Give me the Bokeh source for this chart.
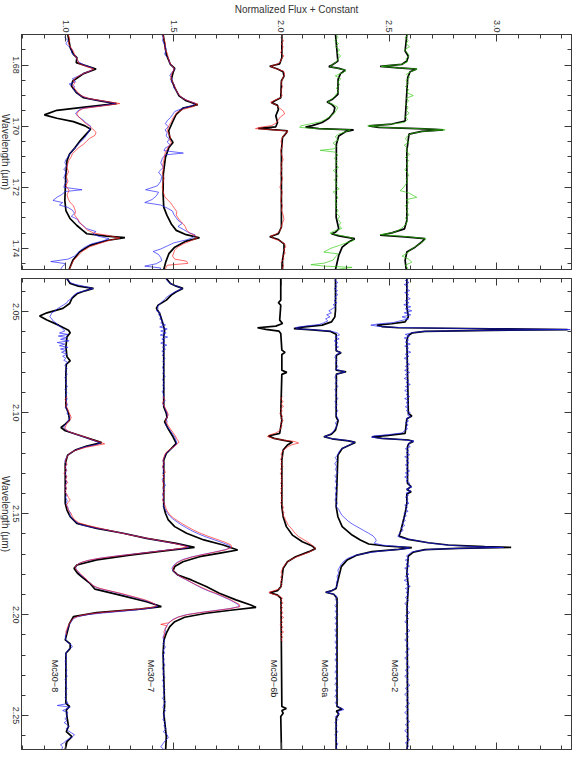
import math
from bokeh.plotting import figure
from bokeh.models import LinearAxis, Range1d, SingleIntervalTicker, PrintfTickFormatter
from bokeh.layouts import column, row
from bokeh.embed import file_html
from bokeh.resources import INLINE
from bokeh.core.properties import value

FONT = "Liberation Sans"
BLUE = "#2020ff"
RED = "#ff2020"
GREEN = "#33cc11"
BLACK = "#000000"

FLUX_RANGE = (0.794, 3.346)
H_RANGE = (1.6700, 1.7469)
K_RANGE = (2.0335, 2.2668)
FLUX_TITLE = "Normalized Flux + Constant"
WL_TITLE = "Wavelength (\u00b5m)"
WL_TICKS_H = [1.68, 1.70, 1.72, 1.74]
WL_TICKS_K = [2.05, 2.10, 2.15, 2.20, 2.25]

STAR_NAMES = ["Mc30\u22128", "Mc30\u22127", "Mc30\u22126b", "Mc30\u22126a", "Mc30\u22122"]
LABEL_FLUX = [0.951, 1.397, 1.966, 2.203, 2.526]
LABEL_WL = [2.2224, 2.2224, 2.2224, 2.2224, 2.2224]

# ---------------- H band (upper panel): (wavelength, flux) ----------------
H8_MODEL = [(1.6700,1.009),(1.6743,1.020),(1.6765,1.035),(1.6776,1.051),(1.6792,1.048),(1.6813,1.140),
    (1.6828,1.082),(1.6852,1.032),(1.6868,1.025),(1.6890,1.048),(1.6907,1.082),(1.6917,1.158),(1.6926,1.235),
    (1.6937,1.097),(1.6948,0.958),(1.6963,0.900),(1.6974,0.958),(1.6985,1.035),(1.6999,1.089),(1.7010,1.115),
    (1.7026,1.094),(1.7048,1.066),(1.7070,1.043),(1.7091,1.017),(1.7113,1.005),(1.7157,1.000),(1.7243,0.995),
    (1.7276,1.000),(1.7303,1.020),(1.7325,1.051),(1.7341,1.078),(1.7352,1.097),(1.7360,1.189),(1.7365,1.274),
    (1.7374,1.189),(1.7390,1.112),(1.7412,1.063),(1.7439,1.032),(1.7469,1.015)]
H8_RED = [(1.6700,1.010),(1.6715,1.018),(1.6730,1.012),(1.6745,1.025),(1.6755,1.035),(1.6765,1.040),
    (1.6775,1.048),(1.6785,1.055),(1.6795,1.060),(1.6805,1.095),(1.6813,1.130),(1.6820,1.110),(1.6830,1.075),
    (1.6840,1.050),(1.6850,1.035),(1.6860,1.040),(1.6870,1.030),(1.6880,1.045),(1.6890,1.055),(1.6900,1.070),
    (1.6910,1.110),(1.6918,1.180),(1.6926,1.250),(1.6934,1.170),(1.6942,1.080),(1.6950,1.060),(1.6960,1.050),
    (1.6970,1.060),(1.6980,1.075),(1.6990,1.090),(1.7000,1.110),(1.7010,1.125),(1.7020,1.140),(1.7030,1.135),
    (1.7040,1.110),(1.7050,1.095),(1.7060,1.080),(1.7070,1.060),(1.7080,1.045),(1.7090,1.030),(1.7100,1.025),
    (1.7110,1.015),(1.7120,1.010),(1.7135,1.005),(1.7150,1.012),(1.7165,1.002),(1.7180,1.010),(1.7195,1.000),
    (1.7210,1.015),(1.7225,1.005),(1.7240,1.012),(1.7250,1.020),(1.7260,1.035),(1.7270,1.040),(1.7280,1.045),
    (1.7290,1.040),(1.7300,1.050),(1.7310,1.060),(1.7320,1.070),(1.7330,1.085),(1.7340,1.100),(1.7350,1.130),
    (1.7358,1.200),(1.7366,1.250),(1.7374,1.200),(1.7385,1.150),(1.7395,1.110),(1.7410,1.075),(1.7425,1.055),
    (1.7440,1.035),(1.7455,1.025),(1.7469,1.015)]
H8_BLUE = [(1.6700,1.000),(1.6710,0.995),(1.6720,1.010),(1.6730,1.000),(1.6740,1.015),(1.6750,1.030),
    (1.6760,1.025),(1.6770,1.045),(1.6780,1.050),(1.6790,1.060),(1.6800,1.085),(1.6810,1.125),(1.6818,1.120),
    (1.6826,1.085),(1.6835,1.060),(1.6845,1.030),(1.6855,1.045),(1.6862,1.015),(1.6870,1.040),(1.6880,1.035),
    (1.6890,1.050),(1.6900,1.065),(1.6910,1.105),(1.6918,1.170),(1.6926,1.230),(1.6934,1.160),(1.6942,1.075),
    (1.6950,1.055),(1.6960,1.045),(1.6970,1.060),(1.6980,1.080),(1.6990,1.095),(1.7000,1.115),(1.7010,1.110),
    (1.7020,1.105),(1.7030,1.095),(1.7040,1.085),(1.7050,1.070),(1.7060,1.055),(1.7070,1.045),(1.7080,1.030),
    (1.7090,1.020),(1.7100,1.010),(1.7110,1.000),(1.7120,0.995),(1.7130,1.005),(1.7140,0.990),(1.7150,1.000),
    (1.7160,0.995),(1.7170,0.990),(1.7180,1.005),(1.7190,0.995),(1.7200,0.990),(1.7208,1.075),(1.7214,0.995),
    (1.7222,0.985),(1.7232,0.960),(1.7243,0.940),(1.7250,0.985),(1.7258,0.970),(1.7266,1.010),(1.7275,1.030),
    (1.7285,1.040),(1.7295,1.025),(1.7305,1.055),(1.7315,1.060),(1.7325,1.080),(1.7335,1.095),(1.7345,1.140),
    (1.7352,1.125),(1.7360,1.150),(1.7368,1.200),(1.7376,1.170),(1.7385,1.120),(1.7395,1.090),(1.7405,1.070),
    (1.7415,1.055),(1.7425,1.040),(1.7435,1.010),(1.7443,0.930),(1.7450,1.000),(1.7458,0.985),(1.7469,0.975)]

H7_MODEL = [(1.6700,1.451),(1.6765,1.466),(1.6798,1.485),(1.6811,1.505),(1.6825,1.497),(1.6847,1.489),
    (1.6874,1.505),(1.6901,1.525),(1.6917,1.558),(1.6930,1.612),(1.6941,1.543),(1.6961,1.512),(1.6988,1.494),
    (1.7015,1.477),(1.7037,1.482),(1.7053,1.497),(1.7070,1.478),(1.7102,1.462),(1.7157,1.452),(1.7222,1.451),
    (1.7265,1.454),(1.7292,1.469),(1.7320,1.489),(1.7341,1.512),(1.7355,1.558),(1.7365,1.620),(1.7376,1.558),
    (1.7396,1.505),(1.7417,1.478),(1.7445,1.463),(1.7469,1.454)]
H7_RED = [(1.6700,1.450),(1.6715,1.455),(1.6730,1.462),(1.6745,1.458),(1.6760,1.470),(1.6775,1.475),
    (1.6790,1.480),(1.6800,1.490),(1.6810,1.502),(1.6820,1.498),(1.6830,1.490),(1.6840,1.487),(1.6850,1.492),
    (1.6860,1.498),(1.6870,1.505),(1.6880,1.510),(1.6890,1.518),(1.6900,1.528),(1.6910,1.545),(1.6920,1.580),
    (1.6928,1.612),(1.6936,1.590),(1.6945,1.545),(1.6955,1.515),(1.6965,1.505),(1.6975,1.495),(1.6985,1.490),
    (1.6995,1.480),(1.7005,1.475),(1.7015,1.470),(1.7025,1.478),(1.7035,1.485),(1.7045,1.482),(1.7055,1.490),
    (1.7065,1.478),(1.7075,1.470),(1.7085,1.462),(1.7095,1.458),(1.7110,1.455),(1.7125,1.450),(1.7140,1.452),
    (1.7155,1.448),(1.7170,1.455),(1.7185,1.450),(1.7200,1.447),(1.7215,1.452),(1.7230,1.458),(1.7240,1.470),
    (1.7250,1.485),(1.7260,1.495),(1.7270,1.505),(1.7280,1.515),(1.7290,1.512),(1.7300,1.520),(1.7310,1.530),
    (1.7320,1.545),(1.7330,1.555),(1.7340,1.560),(1.7350,1.575),(1.7358,1.600),(1.7366,1.610),(1.7375,1.580),
    (1.7385,1.545),(1.7395,1.520),(1.7405,1.505),(1.7415,1.500),(1.7425,1.495),(1.7435,1.505),(1.7442,1.560),
    (1.7449,1.566),(1.7455,1.470),(1.7462,1.465),(1.7469,1.460)]
H7_BLUE = [(1.6700,1.445),(1.6710,1.452),(1.6720,1.448),(1.6735,1.460),(1.6750,1.465),(1.6765,1.458),
    (1.6780,1.478),(1.6795,1.482),(1.6805,1.495),(1.6815,1.505),(1.6825,1.490),(1.6835,1.482),(1.6845,1.495),
    (1.6855,1.488),(1.6865,1.505),(1.6875,1.500),(1.6885,1.515),(1.6895,1.520),(1.6905,1.535),(1.6915,1.560),
    (1.6925,1.600),(1.6933,1.585),(1.6942,1.540),(1.6952,1.505),(1.6962,1.495),(1.6972,1.485),(1.6982,1.470),
    (1.6992,1.462),(1.7002,1.475),(1.7012,1.460),(1.7022,1.470),(1.7032,1.465),(1.7042,1.480),(1.7052,1.470),
    (1.7062,1.485),(1.7072,1.460),(1.7080,1.455),(1.7088,1.545),(1.7094,1.460),(1.7105,1.448),(1.7120,1.440),
    (1.7135,1.452),(1.7150,1.430),(1.7165,1.445),(1.7180,1.440),(1.7195,1.425),(1.7208,1.370),(1.7216,1.430),
    (1.7228,1.420),(1.7240,1.400),(1.7250,1.366),(1.7258,1.440),(1.7268,1.470),(1.7278,1.495),(1.7288,1.500),
    (1.7298,1.510),(1.7308,1.520),(1.7318,1.540),(1.7328,1.520),(1.7338,1.545),(1.7348,1.570),(1.7356,1.600),
    (1.7364,1.590),(1.7372,1.560),(1.7382,1.500),(1.7392,1.470),(1.7402,1.440),(1.7410,1.405),(1.7420,1.430),
    (1.7430,1.440),(1.7440,1.445),(1.7450,1.420),(1.7458,1.366),(1.7464,1.440),(1.7469,1.435)]

H6B_MODEL = [(1.6700,2.002),(1.6776,2.002),(1.6796,1.992),(1.6804,1.946),(1.6813,1.982),(1.6822,2.008),
    (1.6836,2.012),(1.6852,2.000),(1.6907,1.997),(1.6915,1.974),(1.6923,1.954),(1.6932,1.982),(1.6945,1.986),
    (1.6966,1.974),(1.6988,1.982),(1.7002,1.974),(1.7007,1.892),(1.7011,1.958),(1.7015,2.028),(1.7022,2.023),
    (1.7037,2.005),(1.7080,2.000),(1.7330,2.000),(1.7352,1.986),(1.7362,1.946),(1.7371,1.986),(1.7385,2.012),
    (1.7407,2.012),(1.7439,2.005),(1.7469,2.005)]
H6B_RED = [(1.6700,2.005),(1.6710,1.998),(1.6720,2.010),(1.6730,2.000),(1.6740,2.008),(1.6750,2.003),
    (1.6760,1.996),(1.6770,2.012),(1.6780,2.000),(1.6790,1.995),(1.6797,1.980),(1.6804,1.950),(1.6812,1.975),
    (1.6820,2.010),(1.6830,2.015),(1.6840,2.008),(1.6850,2.003),(1.6860,1.998),(1.6870,2.006),(1.6880,2.000),
    (1.6890,1.997),(1.6900,2.004),(1.6908,1.992),(1.6915,1.970),(1.6922,1.950),(1.6930,1.975),(1.6940,1.990),
    (1.6950,2.008),(1.6960,2.015),(1.6970,1.995),(1.6980,1.985),(1.6990,1.975),(1.6998,1.955),(1.7004,1.900),
    (1.7008,1.880),(1.7012,1.960),(1.7016,2.030),(1.7022,2.025),(1.7030,2.010),(1.7040,2.003),(1.7050,1.998),
    (1.7065,2.005),(1.7080,1.996),(1.7095,2.002),(1.7110,2.008),(1.7125,1.997),(1.7140,2.003),(1.7155,1.995),
    (1.7170,2.006),(1.7185,2.000),(1.7200,1.993),(1.7215,2.004),(1.7230,2.000),(1.7245,1.996),(1.7260,2.005),
    (1.7275,2.000),(1.7290,2.008),(1.7305,2.012),(1.7320,2.003),(1.7335,1.998),(1.7345,1.990),(1.7353,1.975),
    (1.7360,1.950),(1.7368,1.965),(1.7376,1.995),(1.7385,2.015),(1.7395,2.020),(1.7405,2.010),(1.7415,2.018),
    (1.7425,2.005),(1.7435,2.012),(1.7445,1.998),(1.7455,2.010),(1.7465,2.004),(1.7469,2.008)]

H6A_MODEL = [(1.6700,2.251),(1.6787,2.262),(1.6800,2.235),(1.6805,2.220),(1.6811,2.266),(1.6817,2.297),
    (1.6828,2.274),(1.6847,2.263),(1.6896,2.262),(1.6913,2.235),(1.6921,2.212),(1.6928,2.232),(1.6939,2.248),
    (1.6955,2.243),(1.6974,2.220),(1.6988,2.189),(1.6998,2.143),(1.7003,2.112),(1.7008,2.174),(1.7012,2.335),
    (1.7018,2.297),(1.7032,2.266),(1.7059,2.255),(1.7298,2.254),(1.7336,2.266),(1.7347,2.251),(1.7352,2.232),
    (1.7359,2.266),(1.7368,2.340),(1.7379,2.312),(1.7396,2.282),(1.7423,2.266),(1.7469,2.251)]
H6A_GREEN = [(1.6700,2.255),(1.6710,2.262),(1.6720,2.248),(1.6730,2.265),(1.6740,2.250),(1.6750,2.270),
    (1.6760,2.258),(1.6770,2.275),(1.6780,2.262),(1.6790,2.255),(1.6798,2.238),(1.6805,2.225),(1.6811,2.260),
    (1.6817,2.300),(1.6825,2.285),(1.6835,2.250),(1.6845,2.275),(1.6855,2.262),(1.6865,2.270),(1.6875,2.255),
    (1.6885,2.265),(1.6895,2.255),(1.6905,2.245),(1.6913,2.230),(1.6921,2.215),(1.6929,2.240),(1.6938,2.262),
    (1.6948,2.255),(1.6958,2.245),(1.6968,2.225),(1.6978,2.205),(1.6986,2.180),(1.6993,2.130),(1.6999,2.090),
    (1.7004,2.085),(1.7008,2.160),(1.7012,2.320),(1.7018,2.300),(1.7026,2.265),(1.7035,2.250),(1.7045,2.265),
    (1.7055,2.240),(1.7066,2.255),(1.7074,2.245),(1.7079,2.180),(1.7085,2.250),(1.7095,2.262),(1.7105,2.245),
    (1.7115,2.258),(1.7125,2.250),(1.7135,2.265),(1.7145,2.240),(1.7155,2.255),(1.7165,2.262),(1.7175,2.245),
    (1.7185,2.258),(1.7195,2.250),(1.7205,2.268),(1.7215,2.240),(1.7225,2.255),(1.7235,2.262),(1.7245,2.248),
    (1.7255,2.258),(1.7265,2.250),(1.7275,2.262),(1.7285,2.255),(1.7295,2.270),(1.7305,2.262),(1.7315,2.275),
    (1.7325,2.268),(1.7335,2.280),(1.7343,2.245),(1.7350,2.225),(1.7357,2.270),(1.7366,2.330),(1.7374,2.335),
    (1.7382,2.300),(1.7390,2.270),(1.7398,2.235),(1.7405,2.215),(1.7412,2.197),(1.7418,2.265),(1.7428,2.250),
    (1.7438,2.240),(1.7448,2.200),(1.7453,2.137),(1.7458,2.200),(1.7462,2.328),(1.7469,2.250)]

H2_MODEL = [(1.6700,2.582),(1.6754,2.574),(1.6771,2.589),(1.6787,2.582),(1.6798,2.558),(1.6804,2.458),
    (1.6809,2.543),(1.6813,2.628),(1.6822,2.597),(1.6841,2.586),(1.6983,2.574),(1.6993,2.512),(1.6999,2.405),
    (1.7004,2.451),(1.7009,2.666),(1.7012,2.751),(1.7017,2.651),(1.7026,2.592),(1.7080,2.582),(1.7309,2.582),
    (1.7336,2.571),(1.7349,2.512),(1.7357,2.458),(1.7362,2.574),(1.7368,2.666),(1.7379,2.651),(1.7396,2.620),
    (1.7412,2.582),(1.7439,2.574),(1.7469,2.579)]
H2_GREEN = [(1.6700,2.590),(1.6710,2.575),(1.6720,2.588),(1.6730,2.578),(1.6740,2.595),(1.6750,2.570),
    (1.6760,2.585),(1.6770,2.592),(1.6780,2.578),(1.6790,2.585),(1.6798,2.555),(1.6804,2.462),(1.6809,2.540),
    (1.6813,2.630),(1.6820,2.605),(1.6830,2.580),(1.6840,2.595),(1.6850,2.578),(1.6860,2.590),(1.6870,2.575),
    (1.6880,2.590),(1.6890,2.582),(1.6900,2.612),(1.6908,2.580),(1.6918,2.590),(1.6928,2.575),(1.6938,2.588),
    (1.6948,2.580),(1.6958,2.592),(1.6968,2.575),(1.6978,2.585),(1.6988,2.570),(1.6994,2.500),(1.6999,2.400),
    (1.7004,2.470),(1.7009,2.680),(1.7012,2.760),(1.7017,2.660),(1.7024,2.600),(1.7032,2.585),(1.7042,2.575),
    (1.7052,2.592),(1.7062,2.570),(1.7072,2.585),(1.7082,2.578),(1.7092,2.595),(1.7102,2.575),(1.7112,2.590),
    (1.7122,2.580),(1.7132,2.588),(1.7142,2.572),(1.7152,2.585),(1.7162,2.590),(1.7172,2.578),(1.7182,2.585),
    (1.7192,2.575),(1.7202,2.565),(1.7211,2.551),(1.7218,2.590),(1.7226,2.610),(1.7233,2.628),(1.7240,2.580),
    (1.7250,2.592),(1.7260,2.575),(1.7270,2.588),(1.7280,2.580),(1.7290,2.592),(1.7300,2.575),(1.7310,2.585),
    (1.7320,2.578),(1.7330,2.565),(1.7340,2.545),(1.7348,2.520),(1.7355,2.460),(1.7362,2.590),(1.7368,2.670),
    (1.7376,2.660),(1.7385,2.640),(1.7395,2.620),(1.7405,2.598),(1.7415,2.585),(1.7425,2.560),(1.7435,2.590),
    (1.7445,2.605),(1.7455,2.575),(1.7465,2.588),(1.7469,2.580)]

# ---------------- K band (lower panel): (wavelength, flux) ----------------
K8_MODEL = [(2.0335,1.005),(2.0360,1.020),(2.0373,1.058),(2.0384,1.128),(2.0396,1.089),(2.0409,1.054),
    (2.0434,1.028),(2.0459,1.017),(2.0483,0.986),(2.0505,0.912),(2.0521,0.878),(2.0541,0.912),(2.0566,0.966),
    (2.0591,1.012),(2.0604,1.020),(2.0624,1.005),(2.0673,1.000),(2.0723,1.005),(2.0743,1.020),(2.0759,1.002),
    (2.0805,1.000),(2.0970,1.000),(2.1003,1.012),(2.1036,1.017),(2.1056,0.997),(2.1073,0.977),(2.1089,0.997),
    (2.1110,1.058),(2.1132,1.120),(2.1148,1.166),(2.1165,1.097),(2.1185,1.043),(2.1210,1.008),(2.1251,0.997),
    (2.1449,0.997),(2.1482,1.005),(2.1515,1.020),(2.1548,1.051),(2.1573,1.143),(2.1597,1.266),(2.1622,1.374),
    (2.1647,1.512),(2.1667,1.597),(2.1683,1.466),(2.1705,1.297),(2.1729,1.143),(2.1754,1.051),(2.1771,1.038),
    (2.1795,1.054),(2.1820,1.082),(2.1845,1.112),(2.1874,1.135),(2.1903,1.251),(2.1936,1.374),(2.1960,1.443),
    (2.1973,1.343),(2.1990,1.143),(2.2010,1.035),(2.2043,1.017),(2.2092,1.005),(2.2125,0.997),(2.2145,1.020),
    (2.2167,1.020),(2.2191,1.000),(2.2439,1.000),(2.2455,1.017),(2.2472,1.002),(2.2505,1.005),(2.2554,1.012),
    (2.2579,1.002),(2.2604,1.028),(2.2629,1.005),(2.2668,0.997)]
K8_BLUE = [(2.0335,1.000),(2.0345,1.012),(2.0355,1.020),(2.0365,1.045),(2.0375,1.090),(2.0385,1.125),
    (2.0395,1.090),(2.0405,1.055),(2.0415,1.040),(2.0425,1.030),(2.0435,1.025),(2.0445,1.010),(2.0455,1.005),
    (2.0465,0.990),(2.0475,0.975),(2.0485,0.960),(2.0495,0.950),(2.0505,0.935),(2.0515,0.930),(2.0525,0.925),
    (2.0535,0.935),(2.0545,0.940),(2.0555,0.955),(2.0565,0.960),(2.0575,0.975),(2.0585,0.985),(2.0595,0.995),
    (2.0605,0.970),(2.0612,1.010),(2.0620,0.965),(2.0628,1.005),(2.0636,0.975),(2.0644,1.015),(2.0652,0.960),
    (2.0660,0.995),(2.0668,0.970),(2.0676,1.010),(2.0684,0.975),(2.0692,1.000),(2.0700,0.980),(2.0710,1.005),
    (2.0720,0.985),(2.0730,1.000),(2.0740,0.990),(2.0750,1.008),(2.0765,0.995),(2.0780,1.005),(2.0795,0.997),
    (2.0810,1.006),(2.0825,0.995),(2.0840,1.003),(2.0855,0.998),(2.0870,1.007),(2.0885,0.996),(2.0900,1.004),
    (2.0915,0.998),(2.0930,1.006),(2.0945,1.000),(2.0960,1.008),(2.0975,0.997),(2.0990,1.010),(2.1005,1.005),
    (2.1020,1.020),(2.1035,1.012),(2.1050,1.005),(2.1062,0.995),(2.1072,0.990),(2.1082,0.998),(2.1092,1.010),
    (2.1102,1.035),(2.1112,1.060),(2.1122,1.090),(2.1132,1.115),(2.1142,1.140),(2.1150,1.160),(2.1158,1.140),
    (2.1166,1.100),(2.1176,1.065),(2.1188,1.040),(2.1200,1.020),(2.1212,1.010),(2.1225,1.000),(2.1240,0.995),
    (2.1255,1.003),(2.1270,0.996),(2.1285,1.004),(2.1300,0.995),(2.1315,1.003),(2.1330,0.998),(2.1345,1.005),
    (2.1360,0.996),(2.1375,1.002),(2.1390,0.995),(2.1405,1.004),(2.1420,0.998),(2.1435,1.006),(2.1450,1.000),
    (2.1465,1.008),(2.1480,1.012),(2.1495,1.020),(2.1510,1.018),(2.1525,1.030),(2.1540,1.045),(2.1555,1.070),
    (2.1565,1.110),(2.1575,1.160),(2.1585,1.210),(2.1595,1.255),(2.1605,1.300),(2.1615,1.345),(2.1625,1.390),
    (2.1635,1.440),(2.1645,1.490),(2.1655,1.540),(2.1665,1.570),(2.1672,1.545),(2.1680,1.470),(2.1690,1.390),
    (2.1700,1.310),(2.1710,1.230),(2.1720,1.160),(2.1730,1.110),(2.1740,1.075),(2.1750,1.055),(2.1762,1.045),
    (2.1775,1.048),(2.1788,1.058),(2.1800,1.065),(2.1812,1.080),(2.1825,1.095),(2.1838,1.105),(2.1850,1.118),
    (2.1862,1.135),(2.1872,1.160),(2.1882,1.200),(2.1892,1.240),(2.1902,1.275),(2.1912,1.310),(2.1922,1.345),
    (2.1932,1.375),(2.1942,1.400),(2.1952,1.420),(2.1960,1.425),(2.1968,1.390),(2.1976,1.330),(2.1984,1.250),
    (2.1992,1.170),(2.2000,1.100),(2.2010,1.055),(2.2020,1.035),(2.2035,1.025),(2.2050,1.015),(2.2065,1.010),
    (2.2080,1.005),(2.2095,1.000),(2.2110,0.997),(2.2125,1.000),(2.2140,1.010),(2.2150,1.025),(2.2160,1.030),
    (2.2170,1.015),(2.2185,1.003),(2.2200,0.998),(2.2215,1.004),(2.2230,0.996),(2.2245,1.003),(2.2260,0.997),
    (2.2275,1.005),(2.2290,0.999),(2.2305,1.006),(2.2320,0.996),(2.2335,1.003),(2.2350,0.998),(2.2365,1.005),
    (2.2380,0.997),(2.2395,1.004),(2.2410,0.996),(2.2425,1.002),(2.2440,1.010),(2.2450,0.960),(2.2458,1.020),
    (2.2466,1.005),(2.2475,0.985),(2.2485,1.010),(2.2495,1.000),(2.2505,1.008),(2.2515,0.995),(2.2525,1.005),
    (2.2535,0.992),(2.2545,1.006),(2.2555,1.015),(2.2565,1.000),(2.2575,1.010),(2.2585,1.025),(2.2595,1.040),
    (2.2605,1.030),(2.2615,1.015),(2.2625,1.000),(2.2635,0.990),(2.2645,0.975),(2.2655,0.985),(2.2668,0.980)]
K8_RED = [(2.0920,1.005),(2.0935,0.996),(2.0950,1.004),(2.0965,0.998),(2.0980,1.008),(2.0995,1.012),
    (2.1010,1.020),(2.1025,1.025),(2.1040,1.015),(2.1052,1.005),(2.1064,1.000),(2.1076,0.995),(2.1088,1.005),
    (2.1100,1.030),(2.1112,1.065),(2.1124,1.100),(2.1136,1.130),(2.1146,1.160),(2.1154,1.180),(2.1162,1.140),
    (2.1172,1.090),(2.1184,1.050),(2.1196,1.025),(2.1210,1.010),(2.1225,1.003),(2.1240,0.998),(2.1255,1.005),
    (2.1270,0.995),(2.1285,1.003),(2.1300,0.990),(2.1315,1.005),(2.1330,0.998),(2.1345,1.008),(2.1360,0.997),
    (2.1375,1.003),(2.1390,0.995),(2.1405,1.005),(2.1420,1.012),(2.1432,1.020),(2.1445,1.010),(2.1458,1.002),
    (2.1470,1.008),(2.1485,1.012),(2.1500,1.025),(2.1515,1.030),(2.1530,1.040),(2.1545,1.060),(2.1558,1.100),
    (2.1570,1.150),(2.1582,1.200),(2.1594,1.250),(2.1606,1.300),(2.1618,1.360),(2.1630,1.420),(2.1642,1.480),
    (2.1654,1.530),(2.1664,1.565),(2.1672,1.530),(2.1682,1.460),(2.1692,1.380),(2.1702,1.300),(2.1712,1.220),
    (2.1722,1.150),(2.1732,1.100),(2.1744,1.065),(2.1756,1.048),(2.1768,1.042),(2.1780,1.050),(2.1792,1.062),
    (2.1805,1.075),(2.1818,1.088),(2.1830,1.100),(2.1842,1.110),(2.1855,1.125),(2.1866,1.145),(2.1876,1.180),
    (2.1886,1.220),(2.1896,1.260),(2.1906,1.295),(2.1916,1.330),(2.1926,1.365),(2.1936,1.390),(2.1946,1.410),
    (2.1956,1.420),(2.1964,1.400),(2.1972,1.340),(2.1980,1.260),(2.1988,1.180),(2.1996,1.110),(2.2005,1.065),
    (2.2015,1.040),(2.2028,1.025),(2.2042,1.018),(2.2056,1.010),(2.2070,1.005),(2.2085,1.000),(2.2100,1.003)]

K7_MODEL = [(2.0335,1.466),(2.0360,1.485),(2.0373,1.512),(2.0384,1.543),(2.0401,1.512),(2.0417,1.489),
    (2.0442,1.466),(2.0467,1.428),(2.0483,1.420),(2.0508,1.435),(2.0550,1.448),(2.0591,1.458),(2.0624,1.454),
    (2.0970,1.454),(2.1003,1.466),(2.1023,1.469),(2.1045,1.458),(2.1078,1.474),(2.1119,1.497),(2.1152,1.512),
    (2.1177,1.489),(2.1201,1.466),(2.1234,1.454),(2.1465,1.454),(2.1498,1.462),(2.1531,1.475),(2.1564,1.505),
    (2.1597,1.560),(2.1630,1.640),(2.1655,1.730),(2.1680,1.797),(2.1693,1.728),(2.1713,1.620),(2.1738,1.543),
    (2.1762,1.505),(2.1782,1.497),(2.1804,1.520),(2.1828,1.582),(2.1861,1.651),(2.1894,1.712),(2.1927,1.789),
    (2.1952,1.858),(2.1964,1.882),(2.1977,1.774),(2.1993,1.651),(2.2013,1.551),(2.2035,1.505),(2.2059,1.482),
    (2.2092,1.466),(2.2125,1.455),(2.2191,1.451),(2.2455,1.458),(2.2488,1.454),(2.2604,1.466),(2.2668,1.463)]
K7_BLUE = [(2.0335,1.462),(2.0345,1.470),(2.0355,1.478),(2.0365,1.495),(2.0375,1.520),(2.0385,1.540),
    (2.0395,1.520),(2.0405,1.500),(2.0415,1.485),(2.0425,1.470),(2.0435,1.460),(2.0445,1.452),(2.0455,1.440),
    (2.0465,1.432),(2.0475,1.425),(2.0485,1.428),(2.0495,1.420),(2.0505,1.438),(2.0515,1.430),(2.0525,1.445),
    (2.0535,1.435),(2.0545,1.450),(2.0555,1.440),(2.0565,1.462),(2.0575,1.435),(2.0585,1.470),(2.0595,1.440),
    (2.0605,1.465),(2.0615,1.438),(2.0625,1.472),(2.0635,1.445),(2.0645,1.460),(2.0655,1.440),(2.0665,1.468),
    (2.0675,1.448),(2.0685,1.462),(2.0695,1.445),(2.0705,1.458),(2.0715,1.447),(2.0730,1.460),(2.0745,1.450),
    (2.0760,1.458),(2.0775,1.448),(2.0790,1.456),(2.0805,1.450),(2.0820,1.460),(2.0835,1.448),(2.0850,1.456),
    (2.0865,1.450),(2.0880,1.458),(2.0895,1.447),(2.0910,1.455),(2.0925,1.452),(2.0940,1.460),(2.0955,1.449),
    (2.0970,1.457),(2.0985,1.462),(2.1000,1.468),(2.1015,1.472),(2.1030,1.465),(2.1045,1.470),(2.1060,1.462),
    (2.1075,1.475),(2.1090,1.485),(2.1105,1.495),(2.1120,1.505),(2.1135,1.510),(2.1150,1.515),(2.1165,1.505),
    (2.1180,1.488),(2.1195,1.470),(2.1210,1.460),(2.1225,1.455),(2.1240,1.450),(2.1255,1.458),(2.1270,1.448),
    (2.1285,1.456),(2.1300,1.450),(2.1315,1.458),(2.1330,1.447),(2.1345,1.455),(2.1360,1.462),(2.1375,1.450),
    (2.1390,1.457),(2.1405,1.448),(2.1420,1.455),(2.1435,1.450),(2.1450,1.458),(2.1465,1.452),(2.1480,1.462),
    (2.1495,1.470),(2.1510,1.480),(2.1525,1.495),(2.1540,1.515),(2.1555,1.535),(2.1570,1.560),(2.1585,1.585),
    (2.1600,1.615),(2.1615,1.650),(2.1630,1.690),(2.1645,1.730),(2.1658,1.760),(2.1668,1.765),(2.1678,1.740),
    (2.1690,1.690),(2.1702,1.635),(2.1715,1.580),(2.1728,1.540),(2.1742,1.515),(2.1756,1.500),(2.1770,1.492),
    (2.1784,1.498),(2.1798,1.510),(2.1812,1.530),(2.1826,1.555),(2.1840,1.580),(2.1854,1.605),(2.1868,1.630),
    (2.1882,1.660),(2.1896,1.695),(2.1910,1.725),(2.1924,1.755),(2.1938,1.780),(2.1950,1.800),(2.1960,1.805),
    (2.1970,1.760),(2.1980,1.690),(2.1990,1.620),(2.2000,1.560),(2.2012,1.520),(2.2025,1.495),(2.2040,1.478),
    (2.2055,1.468),(2.2070,1.460),(2.2085,1.462),(2.2100,1.455),(2.2115,1.450),(2.2130,1.458),(2.2145,1.450),
    (2.2160,1.462),(2.2175,1.452),(2.2190,1.458),(2.2205,1.448),(2.2220,1.456),(2.2235,1.450),(2.2250,1.460),
    (2.2265,1.447),(2.2280,1.455),(2.2295,1.450),(2.2310,1.460),(2.2325,1.448),(2.2340,1.456),(2.2355,1.450),
    (2.2370,1.460),(2.2385,1.452),(2.2400,1.458),(2.2415,1.448),(2.2430,1.462),(2.2445,1.455),(2.2460,1.450),
    (2.2475,1.462),(2.2490,1.452),(2.2505,1.458),(2.2520,1.450),(2.2535,1.462),(2.2550,1.455),(2.2565,1.465),
    (2.2580,1.452),(2.2595,1.470),(2.2610,1.475),(2.2625,1.460),(2.2640,1.450),(2.2655,1.440),(2.2668,1.455)]
K7_RED = [(2.0920,1.452),(2.0935,1.458),(2.0950,1.448),(2.0965,1.456),(2.0980,1.462),(2.0995,1.470),
    (2.1010,1.475),(2.1025,1.468),(2.1040,1.462),(2.1055,1.470),(2.1070,1.478),(2.1085,1.488),(2.1100,1.498),
    (2.1115,1.508),(2.1130,1.515),(2.1145,1.525),(2.1160,1.512),(2.1175,1.492),(2.1190,1.472),(2.1205,1.460),
    (2.1220,1.455),(2.1235,1.450),(2.1250,1.456),(2.1265,1.448),(2.1280,1.455),(2.1295,1.462),(2.1310,1.450),
    (2.1325,1.457),(2.1340,1.448),(2.1355,1.455),(2.1370,1.450),(2.1385,1.458),(2.1400,1.450),(2.1415,1.456),
    (2.1430,1.448),(2.1445,1.455),(2.1460,1.460),(2.1475,1.465),(2.1490,1.472),(2.1505,1.482),(2.1520,1.498),
    (2.1535,1.518),(2.1550,1.540),(2.1565,1.565),(2.1580,1.590),(2.1595,1.620),(2.1610,1.655),(2.1625,1.695),
    (2.1640,1.735),(2.1654,1.765),(2.1666,1.770),(2.1678,1.745),(2.1690,1.695),(2.1702,1.640),(2.1715,1.585),
    (2.1728,1.545),(2.1742,1.518),(2.1756,1.503),(2.1770,1.496),(2.1784,1.500),(2.1798,1.512),(2.1812,1.532),
    (2.1826,1.558),(2.1840,1.582),(2.1854,1.608),(2.1868,1.635),(2.1882,1.665),(2.1896,1.700),(2.1910,1.730),
    (2.1924,1.760),(2.1938,1.785),(2.1950,1.805),(2.1960,1.808),(2.1970,1.765),(2.1980,1.695),(2.1990,1.625),
    (2.2000,1.565),(2.2012,1.522),(2.2025,1.498),(2.2040,1.478),(2.2048,1.440),(2.2055,1.470),(2.2070,1.462),
    (2.2085,1.455),(2.2100,1.458),(2.2115,1.452)]

K6B_MODEL = [(2.0335,1.997),(2.0442,1.997),(2.0455,1.986),(2.0467,1.997),(2.0541,1.992),(2.0558,2.005),
    (2.0571,1.974),(2.0579,1.889),(2.0587,1.928),(2.0596,1.989),(2.0607,1.997),(2.0690,2.002),(2.0701,2.017),
    (2.0711,2.002),(2.0789,2.002),(2.0800,2.025),(2.0810,2.002),(2.1003,1.997),(2.1036,2.002),(2.1102,1.992),
    (2.1115,1.940),(2.1127,1.966),(2.1137,2.012),(2.1145,2.051),(2.1160,2.028),(2.1185,2.008),(2.1234,2.002),
    (2.1465,2.002),(2.1515,2.008),(2.1564,2.023),(2.1606,2.051),(2.1639,2.097),(2.1660,2.143),(2.1673,2.158),
    (2.1688,2.128),(2.1713,2.066),(2.1738,2.028),(2.1771,2.008),(2.1861,1.998),(2.1881,1.982),(2.1891,1.946),
    (2.1903,1.982),(2.1919,1.998),(2.2455,2.002),(2.2465,2.023),(2.2475,2.002),(2.2488,2.008),(2.2505,1.997),
    (2.2668,2.000)]
K6B_RED = [(2.0920,2.005),(2.0932,1.995),(2.0944,2.008),(2.0956,1.998),(2.0968,2.010),(2.0980,1.996),
    (2.0992,2.004),(2.1004,1.992),(2.1016,2.006),(2.1028,1.998),(2.1040,2.008),(2.1052,1.995),(2.1064,2.003),
    (2.1076,1.996),(2.1088,1.992),(2.1100,1.975),(2.1110,1.945),(2.1118,1.935),(2.1126,1.960),(2.1134,2.000),
    (2.1142,2.060),(2.1150,2.080),(2.1158,2.050),(2.1168,2.030),(2.1180,2.015),(2.1192,2.005),(2.1205,1.998),
    (2.1218,2.006),(2.1230,1.995),(2.1242,2.004),(2.1254,1.997),(2.1266,2.007),(2.1278,1.996),(2.1290,2.003),
    (2.1302,1.994),(2.1314,2.006),(2.1326,1.998),(2.1338,2.004),(2.1350,1.996),(2.1362,2.008),(2.1374,1.997),
    (2.1386,2.003),(2.1398,1.995),(2.1410,2.006),(2.1422,1.998),(2.1434,2.005),(2.1446,1.996),(2.1458,2.004),
    (2.1470,2.010),(2.1482,2.002),(2.1494,2.012),(2.1506,2.006),(2.1518,2.015),(2.1530,2.018),(2.1542,2.025),
    (2.1554,2.030),(2.1566,2.040),(2.1578,2.050),(2.1590,2.058),(2.1602,2.068),(2.1614,2.080),(2.1626,2.100),
    (2.1638,2.118),(2.1650,2.135),(2.1662,2.148),(2.1672,2.158),(2.1682,2.145),(2.1694,2.120),(2.1706,2.090),
    (2.1718,2.062),(2.1730,2.040),(2.1742,2.025),(2.1754,2.015),(2.1766,2.008),(2.1778,2.003),(2.1790,1.998),
    (2.1802,2.006),(2.1814,1.996),(2.1826,2.004),(2.1838,1.995),(2.1850,2.003),(2.1862,1.998),(2.1872,1.990),
    (2.1882,1.965),(2.1890,1.942),(2.1898,1.960),(2.1908,1.990),(2.1918,2.005),(2.1930,1.996),(2.1942,2.008),
    (2.1954,1.995),(2.1966,2.006),(2.1978,1.994),(2.1990,2.008),(2.2002,1.996),(2.2014,2.010),(2.2026,1.995),
    (2.2038,2.006),(2.2050,1.993),(2.2062,2.008),(2.2074,1.996),(2.2086,2.010),(2.2098,1.994),(2.2110,2.006),
    (2.2122,1.998),(2.2134,2.004)]

K6A_MODEL = [(2.0335,2.251),(2.0492,2.251),(2.0525,2.248),(2.0550,2.232),(2.0566,2.189),(2.0576,2.097),
    (2.0583,2.058),(2.0589,2.143),(2.0597,2.228),(2.0611,2.254),(2.0693,2.254),(2.0703,2.277),(2.0715,2.255),
    (2.0789,2.254),(2.0797,2.300),(2.0809,2.255),(2.1020,2.254),(2.1040,2.263),(2.1086,2.251),(2.1106,2.232),
    (2.1119,2.197),(2.1129,2.235),(2.1139,2.312),(2.1147,2.343),(2.1158,2.320),(2.1177,2.282),(2.1210,2.262),
    (2.1465,2.254),(2.1515,2.262),(2.1564,2.282),(2.1606,2.328),(2.1630,2.366),(2.1650,2.405),(2.1660,2.482),
    (2.1668,2.605),(2.1677,2.543),(2.1688,2.420),(2.1705,2.351),(2.1729,2.305),(2.1762,2.278),(2.1828,2.263),
    (2.1870,2.254),(2.1881,2.235),(2.1889,2.205),(2.1899,2.243),(2.1919,2.258),(2.2455,2.258),(2.2467,2.282),
    (2.2478,2.255),(2.2492,2.266),(2.2513,2.254),(2.2668,2.254)]
K6A_BLUE = [(2.0335,2.255),(2.0345,2.248),(2.0355,2.262),(2.0365,2.250),(2.0375,2.258),(2.0385,2.245),
    (2.0395,2.260),(2.0405,2.250),(2.0415,2.262),(2.0425,2.248),(2.0435,2.256),(2.0445,2.244),(2.0455,2.258),
    (2.0465,2.240),(2.0475,2.252),(2.0485,2.236),(2.0495,2.220),(2.0505,2.232),(2.0515,2.210),(2.0525,2.225),
    (2.0535,2.205),(2.0545,2.215),(2.0555,2.195),(2.0563,2.175),(2.0571,2.110),(2.0578,2.065),(2.0584,2.070),
    (2.0590,2.160),(2.0596,2.232),(2.0604,2.258),(2.0614,2.270),(2.0624,2.250),(2.0634,2.268),(2.0644,2.245),
    (2.0654,2.262),(2.0664,2.248),(2.0674,2.265),(2.0684,2.250),(2.0694,2.258),(2.0702,2.275),(2.0712,2.255),
    (2.0725,2.248),(2.0740,2.258),(2.0755,2.250),(2.0770,2.262),(2.0785,2.252),(2.0797,2.295),(2.0810,2.255),
    (2.0825,2.248),(2.0840,2.258),(2.0855,2.250),(2.0870,2.262),(2.0885,2.248),(2.0900,2.256),(2.0915,2.250),
    (2.0930,2.262),(2.0945,2.248),(2.0960,2.258),(2.0975,2.250),(2.0990,2.262),(2.1005,2.252),(2.1020,2.258),
    (2.1035,2.265),(2.1050,2.250),(2.1065,2.258),(2.1080,2.248),(2.1095,2.240),(2.1108,2.225),(2.1118,2.200),
    (2.1128,2.230),(2.1138,2.310),(2.1146,2.340),(2.1155,2.325),(2.1165,2.305),(2.1178,2.280),(2.1192,2.268),
    (2.1208,2.262),(2.1222,2.250),(2.1237,2.258),(2.1252,2.248),(2.1267,2.256),(2.1282,2.250),(2.1297,2.262),
    (2.1312,2.248),(2.1327,2.256),(2.1342,2.250),(2.1357,2.262),(2.1372,2.248),(2.1387,2.258),(2.1402,2.250),
    (2.1417,2.256),(2.1432,2.248),(2.1447,2.260),(2.1462,2.252),(2.1477,2.265),(2.1492,2.272),(2.1507,2.280),
    (2.1522,2.295),(2.1537,2.310),(2.1552,2.330),(2.1567,2.355),(2.1582,2.380),(2.1597,2.405),(2.1610,2.425),
    (2.1622,2.435),(2.1634,2.440),(2.1646,2.430),(2.1656,2.470),(2.1664,2.560),(2.1670,2.595),(2.1676,2.560),
    (2.1684,2.470),(2.1694,2.400),(2.1706,2.345),(2.1720,2.310),(2.1735,2.290),(2.1750,2.278),(2.1765,2.270),
    (2.1780,2.262),(2.1795,2.266),(2.1810,2.258),(2.1825,2.262),(2.1840,2.255),(2.1855,2.260),(2.1870,2.250),
    (2.1880,2.238),(2.1889,2.208),(2.1898,2.240),(2.1910,2.258),(2.1925,2.250),(2.1940,2.262),(2.1955,2.248),
    (2.1970,2.258),(2.1985,2.250),(2.2000,2.262),(2.2015,2.248),(2.2030,2.258),(2.2045,2.250),(2.2060,2.262),
    (2.2075,2.248),(2.2090,2.256),(2.2105,2.250),(2.2120,2.262),(2.2135,2.248),(2.2150,2.258),(2.2165,2.250),
    (2.2180,2.262),(2.2195,2.250),(2.2210,2.258),(2.2225,2.248),(2.2240,2.262),(2.2255,2.252),(2.2270,2.258),
    (2.2285,2.248),(2.2300,2.262),(2.2315,2.250),(2.2330,2.258),(2.2345,2.248),(2.2360,2.262),(2.2375,2.250),
    (2.2390,2.258),(2.2405,2.248),(2.2420,2.262),(2.2435,2.250),(2.2450,2.258),(2.2462,2.272),(2.2470,2.290),
    (2.2480,2.262),(2.2492,2.268),(2.2505,2.250),(2.2520,2.262),(2.2535,2.248),(2.2550,2.258),(2.2565,2.250),
    (2.2580,2.262),(2.2595,2.248),(2.2610,2.258),(2.2625,2.250),(2.2640,2.262),(2.2655,2.252),(2.2668,2.260)]

K2_MODEL = [(2.0335,2.582),(2.0475,2.582),(2.0525,2.589),(2.0550,2.574),(2.0559,2.512),(2.0566,2.443),
    (2.0573,2.466),(2.0579,2.543),(2.0584,2.974),(2.0588,3.328),(2.0592,2.974),(2.0597,2.666),(2.0604,2.608),
    (2.0617,2.589),(2.0640,2.582),(2.1003,2.589),(2.1016,2.605),(2.1030,2.582),(2.1102,2.574),(2.1112,2.497),
    (2.1119,2.420),(2.1127,2.466),(2.1135,2.589),(2.1142,2.612),(2.1152,2.592),(2.1168,2.585),(2.1350,2.585),
    (2.1366,2.602),(2.1380,2.582),(2.1391,2.602),(2.1403,2.582),(2.1449,2.582),(2.1498,2.574),(2.1581,2.555),
    (2.1611,2.546),(2.1627,2.589),(2.1644,2.682),(2.1655,2.774),(2.1663,2.943),(2.1667,3.066),(2.1672,2.820),
    (2.1678,2.666),(2.1690,2.612),(2.1710,2.589),(2.1795,2.582),(2.1861,2.589),(2.1960,2.583),(2.2620,2.586),
    (2.2668,2.583)]
K2_BLUE = [(2.0335,2.590),(2.0345,2.575),(2.0355,2.592),(2.0365,2.570),(2.0375,2.588),(2.0385,2.578),
    (2.0395,2.595),(2.0405,2.572),(2.0415,2.590),(2.0425,2.580),(2.0435,2.598),(2.0445,2.575),(2.0455,2.592),
    (2.0465,2.568),(2.0475,2.600),(2.0485,2.575),(2.0495,2.605),(2.0505,2.570),(2.0515,2.600),(2.0525,2.560),
    (2.0535,2.590),(2.0545,2.550),(2.0553,2.520),(2.0560,2.450),(2.0566,2.415),(2.0572,2.450),(2.0578,2.540),
    (2.0584,2.950),(2.0588,3.340),(2.0592,2.950),(2.0597,2.660),(2.0604,2.605),(2.0612,2.575),(2.0620,2.595),
    (2.0630,2.570),(2.0640,2.590),(2.0650,2.575),(2.0660,2.598),(2.0670,2.572),(2.0680,2.590),(2.0690,2.578),
    (2.0700,2.600),(2.0710,2.575),(2.0720,2.592),(2.0730,2.570),(2.0740,2.588),(2.0750,2.578),(2.0760,2.595),
    (2.0770,2.575),(2.0780,2.590),(2.0790,2.572),(2.0800,2.595),(2.0810,2.575),(2.0820,2.588),(2.0830,2.570),
    (2.0840,2.592),(2.0850,2.578),(2.0860,2.598),(2.0870,2.575),(2.0880,2.590),(2.0890,2.572),(2.0900,2.588),
    (2.0910,2.578),(2.0920,2.595),(2.0930,2.572),(2.0940,2.590),(2.0950,2.578),(2.0960,2.592),(2.0970,2.575),
    (2.0980,2.588),(2.0990,2.580),(2.1000,2.598),(2.1010,2.585),(2.1020,2.600),(2.1030,2.578),(2.1040,2.590),
    (2.1050,2.575),(2.1060,2.588),(2.1070,2.578),(2.1080,2.585),(2.1090,2.570),(2.1100,2.560),(2.1108,2.500),
    (2.1115,2.430),(2.1121,2.418),(2.1127,2.460),(2.1133,2.560),(2.1140,2.615),(2.1148,2.598),(2.1158,2.585),
    (2.1168,2.598),(2.1178,2.575),(2.1188,2.590),(2.1198,2.578),(2.1208,2.595),(2.1218,2.572),(2.1228,2.590),
    (2.1238,2.578),(2.1248,2.592),(2.1258,2.575),(2.1268,2.588),(2.1278,2.578),(2.1288,2.595),(2.1298,2.575),
    (2.1308,2.590),(2.1318,2.572),(2.1328,2.588),(2.1338,2.578),(2.1348,2.595),(2.1358,2.590),(2.1368,2.605),
    (2.1378,2.580),(2.1388,2.600),(2.1398,2.578),(2.1408,2.590),(2.1418,2.575),(2.1428,2.588),(2.1438,2.578),
    (2.1448,2.592),(2.1458,2.572),(2.1468,2.585),(2.1478,2.575),(2.1488,2.588),(2.1498,2.568),(2.1510,2.580),
    (2.1522,2.565),(2.1534,2.575),(2.1546,2.560),(2.1558,2.572),(2.1570,2.555),(2.1582,2.565),(2.1594,2.550),
    (2.1604,2.545),(2.1612,2.540),(2.1620,2.560),(2.1628,2.600),(2.1636,2.640),(2.1644,2.680),(2.1652,2.740),
    (2.1658,2.800),(2.1663,2.900),(2.1667,3.030),(2.1671,2.860),(2.1676,2.700),(2.1682,2.640),(2.1690,2.605),
    (2.1700,2.592),(2.1710,2.580),(2.1720,2.592),(2.1730,2.575),(2.1740,2.590),(2.1750,2.578),(2.1760,2.595),
    (2.1770,2.572),(2.1780,2.588),(2.1790,2.578),(2.1800,2.592),(2.1810,2.575),(2.1820,2.590),(2.1830,2.570),
    (2.1840,2.588),(2.1850,2.580),(2.1860,2.598),(2.1870,2.575),(2.1880,2.590),(2.1890,2.578),(2.1900,2.592),
    (2.1915,2.575),(2.1930,2.590),(2.1945,2.572),(2.1960,2.588),(2.1975,2.578),(2.1990,2.595),(2.2005,2.575),
    (2.2020,2.590),(2.2035,2.572),(2.2050,2.588),(2.2065,2.580),(2.2080,2.596),(2.2095,2.575),(2.2110,2.590),
    (2.2125,2.572),(2.2140,2.588),(2.2155,2.578),(2.2170,2.594),(2.2185,2.575),(2.2200,2.590),(2.2215,2.572),
    (2.2230,2.588),(2.2245,2.578),(2.2260,2.595),(2.2275,2.575),(2.2290,2.590),(2.2305,2.572),(2.2320,2.588),
    (2.2335,2.580),(2.2350,2.596),(2.2365,2.575),(2.2380,2.590),(2.2395,2.572),(2.2410,2.588),(2.2425,2.578),
    (2.2440,2.594),(2.2455,2.575),(2.2470,2.590),(2.2485,2.572),(2.2500,2.588),(2.2515,2.578),(2.2530,2.595),
    (2.2545,2.575),(2.2560,2.590),(2.2575,2.572),(2.2590,2.588),(2.2605,2.580),(2.2620,2.596),(2.2635,2.575),
    (2.2650,2.590),(2.2668,2.580)]

H_OBS = [(H8_BLUE, BLUE), (H8_RED, RED), (H7_BLUE, BLUE), (H7_RED, RED), (H6B_RED, RED),
         (H6A_GREEN, GREEN), (H2_GREEN, GREEN)]
H_MODELS = [H8_MODEL, H7_MODEL, H6B_MODEL, H6A_MODEL, H2_MODEL]
K_OBS = [(K8_BLUE, BLUE), (K8_RED, RED), (K7_BLUE, BLUE), (K7_RED, RED), (K6B_RED, RED),
         (K6A_BLUE, BLUE), (K2_BLUE, BLUE)]
K_MODELS = [K8_MODEL, K7_MODEL, K6B_MODEL, K6A_MODEL, K2_MODEL]

FRAME_W = 550
STRIP_W = 21
AX_COL = "#3a3a3a"
TXT_COL = "#333333"


def split(pairs):
    wl = [a for a, b in pairs]
    fx = [b for a, b in pairs]
    return fx, wl


def make_axis(ticker, fmt, show_labels, title=None):
    ax = LinearAxis(ticker=ticker, formatter=PrintfTickFormatter(format=fmt))
    ax.axis_line_color = AX_COL
    ax.major_tick_line_color = AX_COL
    ax.minor_tick_line_color = AX_COL
    ax.major_tick_in = 7
    ax.major_tick_out = 0
    ax.minor_tick_in = 4
    ax.minor_tick_out = 0
    if show_labels:
        ax.major_label_text_font = FONT
        ax.major_label_text_font_size = "9px"
        ax.major_label_text_color = TXT_COL
        ax.major_label_orientation = -math.pi / 2
        ax.major_label_standoff = 2
    else:
        ax.major_label_text_font_size = "1px"
        ax.major_label_text_alpha = 0
        ax.major_label_text_color = None
        ax.major_label_standoff = 0
    if title:
        ax.axis_label = title
        ax.axis_label_text_font = FONT
        ax.axis_label_text_font_size = "10px"
        ax.axis_label_text_font_style = "normal"
        ax.axis_label_text_color = TXT_COL
        ax.axis_label_standoff = 2
    return ax


def borders(top):
    return dict(min_border_top=31 if top else 5, min_border_bottom=4 if top else 1)


def panel(y_range, frame_h, wl_major, wl_minor, top):
    p = figure(frame_width=FRAME_W, frame_height=frame_h,
               x_range=Range1d(*FLUX_RANGE), y_range=y_range,
               output_backend="svg", toolbar_location=None,
               x_axis_location=None, y_axis_location=None,
               min_border_left=0, min_border_right=3, **borders(top))
    p.xgrid.visible = False
    p.ygrid.visible = False
    p.outline_line_color = AX_COL
    p.background_fill_color = "white"
    p.border_fill_color = "white"

    fx_tick = SingleIntervalTicker(interval=0.5, num_minor_ticks=5)
    wl_tick = SingleIntervalTicker(interval=wl_major, num_minor_ticks=wl_minor)

    p.add_layout(make_axis(fx_tick, "%.1f", top, FLUX_TITLE if top else None), "above")
    p.add_layout(make_axis(fx_tick, "%.1f", False), "below")
    p.add_layout(make_axis(wl_tick, "%.2f", False), "left")
    p.add_layout(make_axis(wl_tick, "%.2f", False), "right")
    return p


def strip(y_range, frame_h, wl_range, wl_ticks, top):
    # narrow companion plot sharing the wavelength range: tick labels and axis title
    # written top-to-bottom and centred on their ticks, as in the original figure
    s = figure(frame_width=STRIP_W, frame_height=frame_h,
               x_range=Range1d(0, STRIP_W), y_range=y_range,
               output_backend="svg", toolbar_location=None,
               x_axis_location=None, y_axis_location=None,
               min_border_left=0, min_border_right=0, **borders(top))
    s.xgrid.visible = False
    s.ygrid.visible = False
    s.outline_line_color = None
    s.background_fill_color = "white"
    s.border_fill_color = "white"
    s.text(x=[15.0] * len(wl_ticks), y=wl_ticks, text=["%.2f" % t for t in wl_ticks],
           angle=-math.pi / 2, text_align="center", text_baseline="middle",
           text_font=value(FONT), text_font_size="9px", text_color=TXT_COL)
    s.text(x=[4.5], y=[(wl_range[0] + wl_range[1]) / 2], text=[WL_TITLE],
           angle=-math.pi / 2, text_align="center", text_baseline="middle",
           text_font=value(FONT), text_font_size="10px", text_color=TXT_COL)
    return s


h_y = Range1d(H_RANGE[1], H_RANGE[0])
k_y = Range1d(K_RANGE[1], K_RANGE[0])

top = panel(h_y, 235, 0.02, 4, True)
for pairs in H_MODELS:
    fx, wl = split(pairs)
    top.line(fx, wl, line_color=BLACK, line_width=1.7)
for pairs, col in H_OBS:
    fx, wl = split(pairs)
    top.line(fx, wl, line_color=col, line_width=0.9, line_alpha=0.75)

bot = panel(k_y, 471, 0.05, 5, False)
for pairs in K_MODELS:
    fx, wl = split(pairs)
    bot.line(fx, wl, line_color=BLACK, line_width=1.7)
for pairs, col in K_OBS:
    fx, wl = split(pairs)
    bot.line(fx, wl, line_color=col, line_width=0.9, line_alpha=0.75)

bot.text(x=LABEL_FLUX, y=LABEL_WL, text=STAR_NAMES, angle=-math.pi / 2,
         text_align="left", text_baseline="middle",
         text_font=value(FONT), text_font_size="9px", text_color="#222222")

top_strip = strip(h_y, 235, H_RANGE, WL_TICKS_H, True)
bot_strip = strip(k_y, 471, K_RANGE, WL_TICKS_K, False)

layout = column(row(top_strip, top, spacing=0), row(bot_strip, bot, spacing=0), spacing=0)
open("out.html", "w").write(file_html(layout, INLINE))
